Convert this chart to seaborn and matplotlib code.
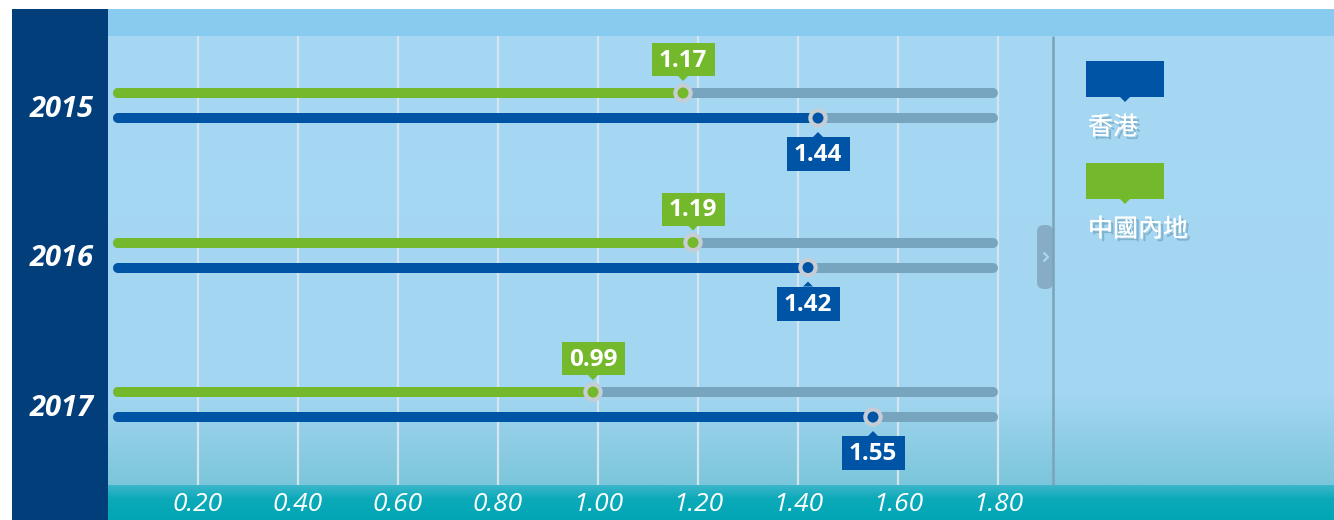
import numpy as np
import pandas as pd
import matplotlib.pyplot as plt
import matplotlib.patches as mpatches
import matplotlib.patheffects as pe
from matplotlib.colors import LinearSegmentedColormap
import seaborn as sns

# data
years = ["2015", "2016", "2017"]
series_names = ["香港", "中國內地"]
hong_kong = [1.44, 1.42, 1.55]
mainland = [1.17, 1.19, 0.99]
tick_values = [0.20, 0.40, 0.60, 0.80, 1.00, 1.20, 1.40, 1.60, 1.80]
tick_labels = ["0.20", "0.40", "0.60", "0.80", "1.00", "1.20", "1.40", "1.60", "1.80"]
track_end = 1.80

# colours
NAVY = "#023E7A"
STRIP = "#89CBEE"
BLUE = "#0054A6"
GREEN = "#74B92C"
TRACK = "#77A5BF"
GRID = "#D6E4EE"
RING = "#C6CDD5"
colors = {"香港": BLUE, "中國內地": GREEN}

sns.set_theme(style="white")
plt.rcParams["font.family"] = ["Open Sans", "Noto Sans CJK TC", "DejaVu Sans"]

W, H = 1334, 520
fig = plt.figure(figsize=(W / 100, H / 100), dpi=100)
fig.patch.set_facecolor("white")


def px_rect(x0, y0, x1, y1):
    return [x0 / W, 1 - y1 / H, (x1 - x0) / W, (y1 - y0) / H]


# background layer in pixel units
bg = fig.add_axes([0, 0, 1, 1], zorder=0)
bg.set_xlim(0, W)
bg.set_ylim(H, 0)
bg.axis("off")

bg.add_patch(mpatches.Rectangle((12, 9), 96, H - 9, color=NAVY, lw=0))
bg.add_patch(mpatches.Rectangle((108, 9), W - 108, 27, color=STRIP, lw=0))

main_cmap = LinearSegmentedColormap.from_list(
    "main", [(0, "#A6D8F3"), (0.8, "#A3D6F1"), (1, "#7CC6DB")])
grad = np.linspace(0, 1, 200).reshape(-1, 1)
bg.imshow(grad, cmap=main_cmap, aspect="auto", origin="upper",
          extent=(108, W, 485, 36))
band_cmap = LinearSegmentedColormap.from_list(
    "band", [(0, "#3CB6CA"), (0.4, "#0BAAB9"), (1, "#00A6B4")])
bg.imshow(grad, cmap=band_cmap, aspect="auto", origin="upper",
          extent=(108, W, 520, 485))

# divider and collapse tab
bg.add_patch(mpatches.FancyBboxPatch((1037, 225), 16, 64,
                                     boxstyle="round,pad=0,rounding_size=7",
                                     color="#86ADC5", lw=0))
bg.plot([1053, 1053], [36, 485], color="#7BA3BB", lw=1.8, solid_capstyle="butt")
bg.plot([1044, 1048, 1044], [253, 257, 261], color="#A6D8F3", lw=1.6,
        solid_capstyle="round")

# legend
shadow = [pe.withSimplePatchShadow(offset=(2, -2), shadow_rgbFace="#4F7A92", alpha=0.4),
          pe.Normal()]
for k, name in enumerate(series_names):
    top = 61 + k * 102
    bg.add_patch(mpatches.Rectangle((1086, top), 78, 36, color=colors[name], lw=0))
    bg.add_patch(mpatches.Polygon([(1120, top + 36), (1130, top + 36), (1125, top + 41)],
                                  closed=True, color=colors[name], lw=0))
    bg.text(1088, top + 67, name, color="white", fontsize=18, ha="left", va="center",
            fontweight="light", path_effects=shadow)

# main chart axes
ax = fig.add_axes(px_rect(108, 36, 1053, 485), zorder=1)
ax.patch.set_alpha(0)
ax.set_xlim(0.02, 1.91)
ax.set_ylim(2.538, -0.465)
for s in ax.spines.values():
    s.set_visible(False)

YPX = 1 / 149.5   # y units per pixel
XPX = 0.002       # x units per pixel
off = 12.5 * YPX

ax.vlines(tick_values, -0.465, 2.538, color=GRID, lw=1.6, zorder=1)

rows = []
for i, yr in enumerate(years):
    rows.append({"year": yr, "series": "中國內地", "value": mainland[i], "y": i - off})
    rows.append({"year": yr, "series": "香港", "value": hong_kong[i], "y": i + off})
df = pd.DataFrame(rows)

lw_bar = 10 * 0.72
ax.hlines(df["y"], 0.04, track_end - 0.01, color=TRACK, lw=lw_bar,
          capstyle="round", zorder=2)
for name, grp in df.groupby("series"):
    ax.hlines(grp["y"], 0.04, grp["value"], color=colors[name], lw=lw_bar,
              capstyle="round", zorder=3)

sns.scatterplot(data=df, x="value", y="y", hue="series", palette=colors,
                s=120, edgecolor=RING, linewidth=3.0, legend=False, ax=ax, zorder=4)

# value callouts
bw = 63 * XPX
for _, r in df.iterrows():
    c = colors[r["series"]]
    if r["series"] == "中國內地":
        y0, y1 = r["y"] - 50 * YPX, r["y"] - 17 * YPX
        tri = [(r["value"] - 5 * XPX, y1), (r["value"] + 5 * XPX, y1),
               (r["value"], r["y"] - 12 * YPX)]
    else:
        y0, y1 = r["y"] + 19 * YPX, r["y"] + 53 * YPX
        tri = [(r["value"] - 5 * XPX, y0), (r["value"] + 5 * XPX, y0),
               (r["value"], r["y"] + 14 * YPX)]
    ax.add_patch(mpatches.Rectangle((r["value"] - bw / 2, y0), bw, y1 - y0,
                                    color=c, lw=0, zorder=5))
    ax.add_patch(mpatches.Polygon(tri, closed=True, color=c, lw=0, zorder=5))
    ax.text(r["value"], (y0 + y1) / 2 + 1 * YPX, f"{r['value']:.2f}", color="white",
            fontsize=17.5, fontweight="bold", ha="center", va="center", zorder=6)

# axis ticks
ax.set_xlabel("")
ax.set_ylabel("")
ax.set_xticks(tick_values, tick_labels)
ax.set_yticks(range(len(years)), years)
ax.tick_params(axis="x", length=0, pad=5, labelcolor="white", labelsize=19)
ax.tick_params(axis="y", length=0, pad=10, labelcolor="white", labelsize=21)
for t in ax.get_xticklabels():
    t.set_fontstyle("italic")
for t in ax.get_yticklabels():
    t.set_fontstyle("italic")
    t.set_fontweight("bold")
ax.grid(False)

fig.savefig("out.png", dpi=100, facecolor="white")
